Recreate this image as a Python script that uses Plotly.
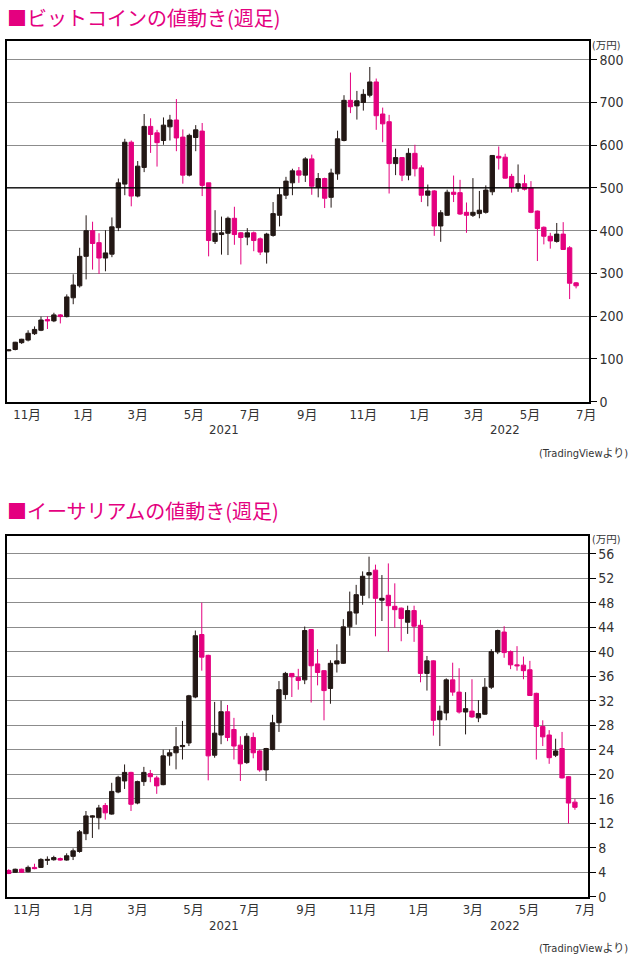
import pandas as pd
import plotly.graph_objects as go

# ---------------- data (万円, weekly candles) ----------------
WEEK_START = "2020-10-12"
N_WEEKS = 89

BTC_OPEN = [119, 122, 138, 144, 159, 167, 192, 189, 203, 199, 243, 271, 340, 400, 372, 336, 345, 407, 509, 607,
            481, 548, 644, 629, 611, 643, 659, 619, 530, 618, 633, 512, 375, 391, 394, 429, 395, 385, 395, 381,
            350, 389, 436, 483, 512, 540, 530, 568, 501, 522, 478, 533, 611, 705, 692, 700, 717, 748, 673, 655,
            557, 571, 530, 581, 547, 483, 493, 411, 436, 490, 489, 443, 436, 440, 443, 491, 574, 572, 527, 500,
            510, 500, 446, 408, 387, 375, 392, 360, 278]
BTC_HIGH = [123, 140, 147, 167, 176, 199, 200, 208, 205, 251, 298, 360, 436, 421, 394, 401, 431, 522, 615, 611,
            563, 673, 663, 636, 665, 671, 708, 637, 627, 647, 652, 512, 448, 433, 433, 456, 397, 406, 398, 384,
            395, 467, 500, 526, 545, 549, 572, 578, 535, 524, 545, 634, 717, 770, 727, 731, 783, 756, 688, 671,
            592, 572, 593, 601, 553, 508, 495, 448, 496, 529, 519, 466, 523, 493, 506, 577, 597, 580, 533, 555,
            531, 516, 447, 410, 395, 418, 420, 364, 280]
BTC_LOW = [118, 120, 135, 141, 156, 165, 170, 186, 183, 197, 228, 267, 286, 309, 299, 305, 338, 399, 483, 457,
           478, 537, 582, 550, 601, 611, 586, 510, 527, 586, 481, 340, 369, 344, 343, 367, 321, 366, 352, 343,
           323, 386, 410, 474, 483, 512, 514, 484, 478, 453, 454, 519, 609, 675, 660, 681, 712, 636, 607, 487,
           530, 516, 518, 527, 467, 457, 388, 374, 435, 467, 437, 395, 432, 429, 440, 483, 543, 522, 489, 491,
           494, 441, 329, 368, 358, 372, 355, 240, 265]
BTC_CLOSE = [121, 139, 146, 160, 169, 191, 189, 203, 199, 245, 273, 340, 400, 370, 336, 348, 409, 512, 607, 481,
             551, 644, 625, 606, 647, 659, 617, 530, 623, 636, 506, 377, 394, 395, 429, 391, 384, 395, 377, 350,
             392, 440, 484, 516, 540, 530, 568, 504, 522, 476, 535, 615, 705, 690, 704, 719, 748, 669, 650, 557,
             571, 530, 581, 545, 483, 493, 411, 442, 490, 485, 439, 436, 443, 448, 495, 576, 570, 523, 501, 510,
             497, 443, 405, 387, 376, 392, 356, 277, 271]

ETH_OPEN = [4.3, 4.0, 4.5, 4.1, 4.8, 4.8, 5.95, 6.05, 6.24, 6.0, 6.6, 7.4, 10.3, 13.0, 12.9, 14.9, 13.5, 17.1, 18.9, 20.3,
            15.3, 18.8, 20.1, 19.4, 18.3, 23.0, 23.5, 24.5, 25.1, 32.6, 42.8, 39.4, 23.1, 26.4, 30.2, 27.3, 24.75, 21.9, 26.0, 23.8,
            20.7, 24.05, 28.4, 33.0, 36.45, 35.8, 35.4, 43.6, 38.0, 36.9, 34.0, 38.0, 38.1, 44.05, 46.3, 49.2, 52.5, 53.3, 48.4, 49.2,
            47.4, 47.1, 44.8, 46.7, 44.3, 36.45, 38.5, 28.9, 30.0, 35.4, 33.4, 30.15, 30.3, 29.2, 29.8, 34.2, 39.95, 43.2, 40.0, 37.85,
            37.8, 37.05, 33.2, 27.8, 26.4, 23.1, 24.2, 19.6, 15.45]
ETH_HIGH = [4.5, 4.6, 4.6, 5.1, 5.4, 6.3, 6.6, 6.7, 6.4, 7.1, 7.9, 10.9, 14.0, 13.3, 15.0, 15.3, 18.6, 19.75, 21.6, 20.4,
            18.95, 21.2, 20.7, 19.75, 24.0, 24.05, 27.7, 28.7, 32.95, 43.45, 48.0, 39.5, 31.8, 32.0, 31.3, 29.2, 26.2, 26.7, 26.8, 24.05,
            24.3, 29.7, 35.2, 36.7, 36.5, 37.2, 44.1, 43.7, 40.4, 37.0, 38.6, 41.2, 45.3, 49.8, 50.9, 53.1, 55.5, 54.2, 52.5, 54.4,
            51.15, 47.2, 47.5, 47.5, 45.2, 39.3, 38.6, 31.2, 35.65, 38.2, 37.3, 33.4, 35.5, 32.1, 35.7, 40.4, 43.6, 44.15, 40.2, 40.9,
            39.2, 38.5, 33.3, 28.8, 27.2, 25.8, 26.9, 19.7, 16.0]
ETH_LOW = [3.7, 3.9, 3.9, 4.0, 4.5, 4.7, 5.2, 5.9, 5.9, 5.9, 6.0, 7.2, 9.25, 9.6, 11.0, 12.6, 13.4, 16.9, 17.6, 14.0,
           15.1, 18.1, 18.7, 16.8, 18.2, 21.4, 20.8, 22.4, 24.6, 32.4, 36.9, 19.0, 22.7, 24.9, 25.4, 22.4, 18.9, 21.7, 22.6, 20.4,
           18.9, 23.9, 26.9, 32.2, 32.6, 33.8, 34.7, 31.7, 34.5, 28.8, 31.5, 36.6, 38.0, 42.6, 44.4, 47.65, 48.7, 42.5, 45.0, 40.0,
           43.9, 41.7, 42.9, 41.6, 35.0, 33.65, 26.3, 24.6, 28.8, 32.8, 29.9, 26.5, 29.2, 28.5, 29.7, 33.9, 39.6, 39.0, 37.15, 36.9,
           35.5, 32.8, 22.4, 24.6, 21.7, 22.8, 19.3, 11.95, 14.2]
ETH_CLOSE = [3.8, 4.5, 4.0, 4.8, 4.6, 6.1, 6.1, 6.4, 6.0, 6.7, 7.5, 10.6, 13.2, 13.2, 14.5, 13.7, 17.2, 19.5, 20.3, 15.1,
             18.8, 20.3, 19.6, 18.1, 23.0, 23.5, 24.5, 24.7, 32.8, 42.6, 39.1, 23.0, 26.7, 30.2, 26.0, 24.6, 21.7, 26.2, 23.5, 20.7,
             24.2, 28.4, 33.8, 36.45, 35.9, 35.3, 43.45, 37.7, 36.6, 33.65, 38.1, 38.5, 44.05, 46.5, 49.3, 52.3, 52.9, 48.7, 48.7, 47.5,
             46.85, 45.4, 46.7, 44.15, 36.45, 38.5, 28.8, 30.3, 35.4, 33.4, 30.15, 30.7, 29.35, 29.9, 34.2, 40.0, 43.45, 39.85, 37.85, 37.7,
             36.9, 32.85, 27.8, 26.1, 22.7, 23.8, 19.4, 15.3, 14.6]

MONTH_TICKS = ["2020-11-01", "2021-01-01", "2021-03-01", "2021-05-01", "2021-07-01", "2021-09-01",
               "2021-11-01", "2022-01-01", "2022-03-01", "2022-05-01", "2022-07-01"]
MONTH_LABELS = ["11月", "1月", "3月", "5月", "7月", "9月", "11月", "1月", "3月", "5月", "7月"]
X_RANGE = ["2020-10-10", "2022-07-04"]
BTC_TICKS = [0, 100, 200, 300, 400, 500, 600, 700, 800]
ETH_TICKS = [0, 4, 8, 12, 16, 20, 24, 28, 32, 36, 40, 44, 48, 52, 56]
BTC_REF_LINE = 500

TITLE_BTC = "■ビットコインの値動き(週足)"
TITLE_ETH = "■イーサリアムの値動き(週足)"
UNIT = "(万円)"
CREDIT = "(TradingViewより)"
YEAR_LABELS = ["2021", "2022"]

# ---------------- styles ----------------
W, H = 639, 967
MAGENTA = "#e4007f"
BLACK = "#231815"
GRID = "#8c8c8c"
TXT = "#333333"
NARROW = "Liberation Sans Narrow, DejaVu Sans Condensed, Roboto Condensed, Noto Sans CJK JP, sans-serif"
JP = "Noto Sans CJK JP, sans-serif"


def px_x(p):
    return p / W


def px_y(p):
    return 1 - p / H


dates = pd.date_range(WEEK_START, periods=N_WEEKS, freq="7D")

fig = go.Figure()
# black reference line at 500 on the BTC chart (beneath the candles, above the grid)
fig.add_trace(go.Scatter(x=X_RANGE, y=[BTC_REF_LINE, BTC_REF_LINE], mode="lines",
                         line=dict(color="black", width=1.3), xaxis="x", yaxis="y",
                         showlegend=False, hoverinfo="skip", cliponaxis=True))
for (o, h, l, c, xa, ya) in [(BTC_OPEN, BTC_HIGH, BTC_LOW, BTC_CLOSE, "x", "y"),
                             (ETH_OPEN, ETH_HIGH, ETH_LOW, ETH_CLOSE, "x2", "y2")]:
    fig.add_trace(go.Candlestick(
        x=dates, open=o, high=h, low=l, close=c, xaxis=xa, yaxis=ya,
        increasing=dict(line=dict(color=BLACK, width=1), fillcolor=BLACK),
        decreasing=dict(line=dict(color=MAGENTA, width=1), fillcolor=MAGENTA),
        whiskerwidth=0, showlegend=False, hoverinfo="skip"))

frames = {
    "btc": dict(x0=7, x1=595.5, y0=41.7, y1=405.0, yr=[0, 843], ticks=BTC_TICKS),
    "eth": dict(x0=7, x1=594.3, y0=540.3, y1=904.3, yr=[0, 58.9], ticks=ETH_TICKS),
}

common_x = dict(type="date", range=X_RANGE, tickvals=MONTH_TICKS, ticktext=MONTH_LABELS,
                showgrid=False, showline=True, mirror=True, linecolor="black", linewidth=1.5,
                ticks="", tickfont=dict(family=NARROW, size=13, color=TXT),
                rangeslider=dict(visible=False), zeroline=False, fixedrange=True)
common_y = dict(side="right", showgrid=True, gridcolor=GRID, gridwidth=1,
                showline=True, mirror=True, linecolor="black", linewidth=1.5,
                ticks="outside", ticklen=6, tickcolor="black", tickwidth=1,
                tickfont=dict(family=NARROW, size=14, color=TXT), zeroline=False, fixedrange=True)

b, e = frames["btc"], frames["eth"]
fig.update_layout(
    width=W, height=H, margin=dict(l=0, r=0, t=0, b=0),
    paper_bgcolor="white", plot_bgcolor="white",
    boxgap=0.25, boxgroupgap=0.1,
    xaxis=dict(common_x, domain=[px_x(b["x0"]), px_x(b["x1"])], anchor="y"),
    yaxis=dict(common_y, domain=[px_y(b["y1"]), px_y(b["y0"])], anchor="x", range=b["yr"], tickvals=b["ticks"]),
    xaxis2=dict(common_x, domain=[px_x(e["x0"]), px_x(e["x1"])], anchor="y2"),
    yaxis2=dict(common_y, domain=[px_y(e["y1"]), px_y(e["y0"])], anchor="x2", range=e["yr"], tickvals=e["ticks"]),
)

ann = []
for title, ty in [(TITLE_BTC, 18), (TITLE_ETH, 515)]:
    ann.append(dict(text=title, x=px_x(5), y=px_y(ty), xanchor="left", yanchor="middle",
                    font=dict(family=JP, size=20, color=MAGENTA)))
for uy, yy, cy in [(45.5, 433.5, 457), (543, 933, 956)]:
    ann.append(dict(text=UNIT, x=px_x(613), y=px_y(uy), xanchor="center", yanchor="middle",
                    font=dict(family=NARROW, size=10.5, color=TXT)))
    for lbl, lx in zip(YEAR_LABELS, [226.7, 510.7]):
        ann.append(dict(text=lbl, x=px_x(lx), y=px_y(yy), xanchor="center", yanchor="middle",
                        font=dict(family=NARROW, size=13, color=TXT)))
    ann.append(dict(text=CREDIT, x=px_x(637), y=px_y(cy), xanchor="right", yanchor="middle",
                    font=dict(family=NARROW, size=11, color=TXT)))
for a in ann:
    a.update(xref="paper", yref="paper", showarrow=False)
fig.update_layout(annotations=ann)

fig.write_html("out.html")
